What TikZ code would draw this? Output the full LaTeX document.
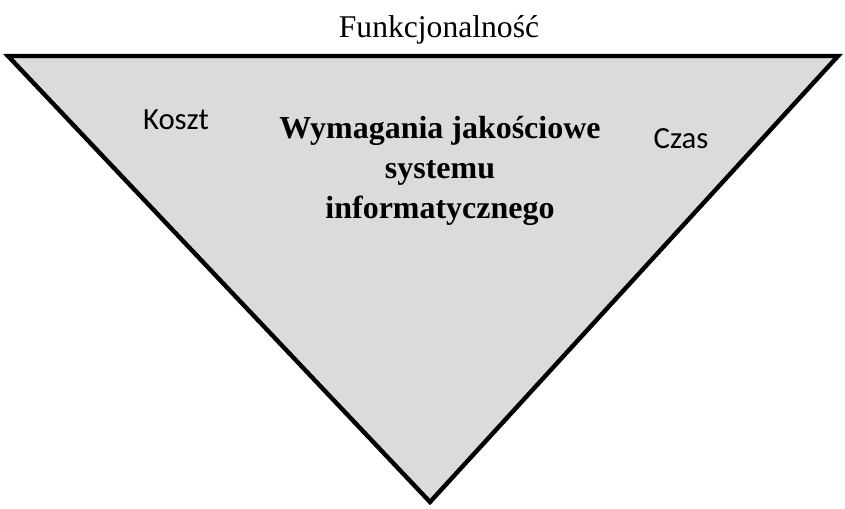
\documentclass[tikz,border=0pt]{standalone}
\usepackage{fontspec}
\setmainfont{Liberation Serif}
\newfontfamily\carlito{Carlito}
\usetikzlibrary{positioning}

\begin{document}
\begin{tikzpicture}[
  x=0.02cm, y=-0.02cm,
  wedge/.style={draw, line width=2.5pt, fill=black!14, line join=miter},
  title/.style={font=\fontsize{18}{21}\selectfont, anchor=base, inner sep=0pt},
  side/.style={font=\carlito\fontsize{17.5}{21}\selectfont, anchor=base, inner sep=0pt},
  main/.style={font=\bfseries\fontsize{18.2}{23}\selectfont, align=center, inner sep=0pt}
]
\useasboundingbox (0,0) rectangle (845,509);
% corners of the inverted triangle
\coordinate (tl) at (8,56);
\coordinate (tr) at (838,56);
\coordinate (apex) at (430,502);
\draw[wedge] (tl) -- (tr) -- (apex) -- cycle;

\node[title] (func) at (439,38) {Funkcjonalność};
\node[side] (cost) at (176,130) {Koszt};
\node[side] (time) at (681,149) {Czas};
\node[main] (req) at (440,171) {Wymagania jakościowe\\systemu\\informatycznego};
\end{tikzpicture}
\end{document}
